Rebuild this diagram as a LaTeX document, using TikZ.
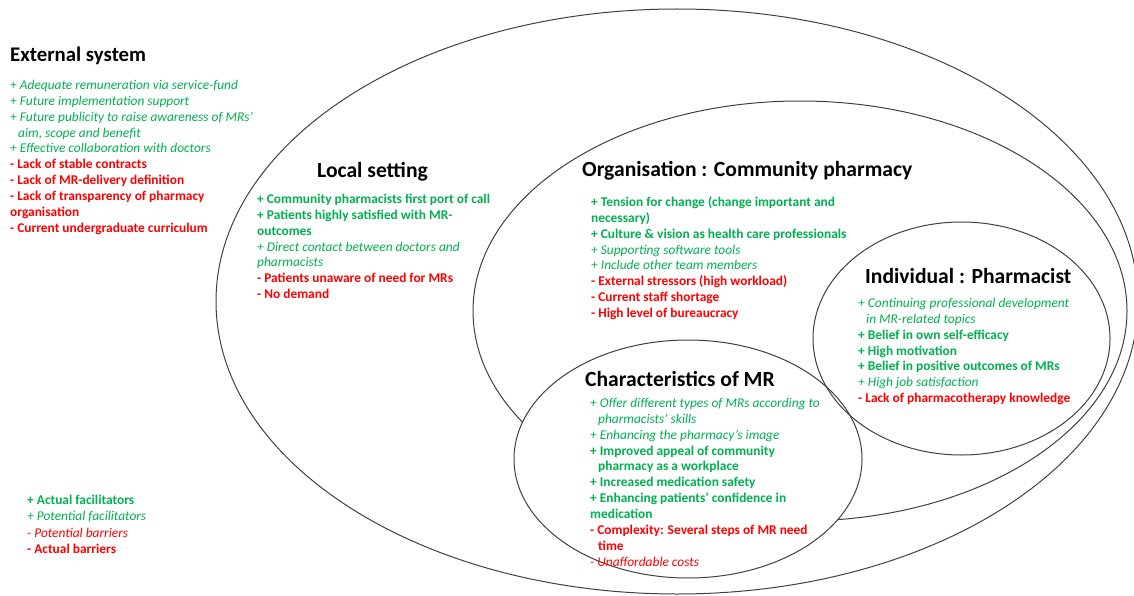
\documentclass[tikz,border=0pt]{standalone}
\usepackage{fontspec}
\setmainfont{Carlito}
\definecolor{facgreen}{HTML}{00B050}
\definecolor{barred}{HTML}{FF0000}
\newcommand{\facA}[1]{{\bfseries\color{facgreen}#1}}
\newcommand{\facP}[1]{{\itshape\color{facgreen}#1}}
\newcommand{\barP}[1]{{\itshape\color{barred}#1}}
\newcommand{\barA}[1]{{\bfseries\color{barred}#1}}
\newcommand{\ind}{\hspace*{8pt}}
\tikzset{
  ring/.style={draw=black!75, line width=1pt},
  ttl/.style={font=\fontsize{21.6}{26}\selectfont\bfseries, anchor=base west, inner sep=0pt},
  blk/.style={font=\fontsize{13.4}{15.9}\selectfont, align=left, anchor=north west, inner sep=0pt},
}
\begin{document}
\begin{tikzpicture}[x=1pt,y=-1pt]
\useasboundingbox (0,0) rectangle (1134,596);
% ellipses
\draw[ring] (677,301.5) ellipse [x radius=461pt, y radius=292.5pt];
\draw[ring] (800,311) ellipse [x radius=327pt, y radius=210pt];
\draw[ring, fill=white] (688,459) ellipse [x radius=174pt, y radius=119pt];
\draw[ring] (961.5,338.5) ellipse [x radius=148.5pt, y radius=116.5pt];

% External system
\node[ttl, font=\fontsize{20.8}{25}\selectfont\bfseries] (ext) at (10,62) {External system};
\node[blk] (extb) at (10,78) {%
\strut\facP{+ Adequate remuneration via service-fund}\\
\strut\facP{+ Future implementation support}\\
\strut\facP{+ Future publicity to raise awareness of MRs’}\\
\strut\ind\facP{aim, scope and benefit}\\
\strut\facP{+ Effective collaboration with doctors}\\
\strut\barA{- Lack of stable contracts}\\
\strut\barA{- Lack of MR-delivery definition}\\
\strut\barA{- Lack of transparency of pharmacy}\\
\strut\barA{organisation}\\
\strut\barA{- Current undergraduate curriculum}};

% Local setting
\node[ttl] (loc) at (317,178) {Local setting};
\node[blk] (locb) at (257,192) {%
\strut\facA{+ Community pharmacists first port of call}\\
\strut\facA{+ Patients highly satisfied with MR-}\\
\strut\facA{outcomes}\\
\strut\facP{+ Direct contact between doctors and}\\
\strut\facP{pharmacists}\\
\strut\barA{- Patients unaware of need for MRs}\\
\strut\barA{- No demand}};

% Organisation
\node[ttl] (org) at (582,176) {Organisation : Community pharmacy};
\node[blk] (orgb) at (591,195) {%
\strut\facA{+ Tension for change (change important and}\\
\strut\facA{necessary)}\\
\strut\facA{+ Culture \& vision as health care professionals}\\
\strut\facP{+ Supporting software tools}\\
\strut\facP{+ Include other team members}\\
\strut\barA{- External stressors (high workload)}\\
\strut\barA{- Current staff shortage}\\
\strut\barA{- High level of bureaucracy}};

% Individual
\node[ttl] (indv) at (865,283) {Individual : Pharmacist};
\node[blk] (indvb) at (858,296) {%
\strut\facP{+ Continuing professional development}\\
\strut\ind\facP{in MR-related topics}\\
\strut\facA{+ Belief in own self-efficacy}\\
\strut\facA{+ High motivation}\\
\strut\facA{+ Belief in positive outcomes of MRs}\\
\strut\facP{+ High job satisfaction}\\
\strut\barA{- Lack of pharmacotherapy knowledge}};

% Characteristics of MR
\node[ttl] (chr) at (585,386) {Characteristics of MR};
\node[blk] (chrb) at (590,396) {%
\strut\facP{+ Offer different types of MRs according to}\\
\strut\ind\facP{pharmacists’ skills}\\
\strut\facP{+ Enhancing the pharmacy’s image}\\
\strut\facA{+ Improved appeal of community}\\
\strut\ind\facA{pharmacy as a workplace}\\
\strut\facA{+ Increased medication safety}\\
\strut\facA{+ Enhancing patients’ confidence in}\\
\strut\facA{medication}\\
\strut\barA{- Complexity: Several steps of MR need}\\
\strut\ind\barA{time}\\
\strut\barP{- Unaffordable costs}};

% Legend
\node[blk, font=\fontsize{13.4}{16.3}\selectfont] (leg) at (27,493) {%
\strut\facA{+ Actual facilitators}\\
\strut\facP{+ Potential facilitators}\\
\strut\barP{- Potential barriers}\\
\strut\barA{- Actual barriers}};
\end{tikzpicture}
\end{document}
